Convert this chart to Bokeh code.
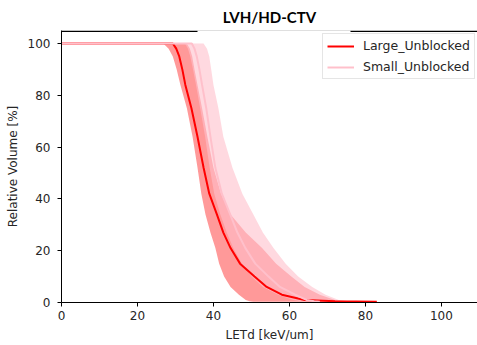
from bokeh.plotting import figure
from bokeh.models import Range1d, FixedTicker, Span, BoxAnnotation
from bokeh.embed import file_html
from bokeh.resources import INLINE

# Relative volume grid [%] and LETd values [keV/um] at each volume level
volume = [100, 100, 98, 95, 90, 84, 75, 64, 52, 42, 34, 27, 21, 15, 10, 6, 3, 1, 0.5, 0.3]
large_mean = [0, 29.3, 30.2, 31.0, 31.8, 32.6, 34.2, 35.8, 37.4, 38.9, 40.9, 42.6, 44.5, 47.0, 50.8, 54.0, 58.0, 64.0, 72.0, 83.0]
large_lo = [0, 26.8, 28.2, 29.3, 30.3, 31.3, 33.0, 34.5, 35.8, 36.8, 37.9, 39.2, 40.5, 41.5, 42.8, 44.5, 46.7, 48.5, 49.5, 50.5]
large_hi = [0, 33.0, 33.8, 34.4, 35.0, 35.8, 37.0, 38.4, 40.0, 42.0, 44.5, 48.5, 52.8, 56.5, 60.5, 64.0, 68.0, 72.0, 76.0, 83.0]
small_mean = [0, 34.3, 35.0, 35.6, 36.3, 37.0, 38.1, 39.2, 40.5, 42.2, 44.4, 46.3, 48.4, 51.0, 54.5, 57.5, 61.5, 64.5, 66.5, 68.0]
small_lo = [0, 32.5, 33.3, 33.9, 34.6, 35.4, 36.5, 37.8, 39.0, 40.2, 41.8, 43.5, 45.2, 47.5, 50.0, 53.0, 57.0, 61.0, 63.0, 64.0]
small_hi = [0, 37.4, 38.3, 38.9, 39.4, 40.0, 41.3, 42.6, 45.0, 47.6, 50.5, 53.0, 55.8, 59.0, 62.3, 66.0, 69.5, 73.0, 75.0, 76.5]

x_ticks = [0, 20, 40, 60, 80, 100]
y_ticks = [0, 20, 40, 60, 80, 100]
title_text = "LVH/HD-CTV"
Y_MAX = 105

p = figure(frame_width=416, frame_height=272, x_range=Range1d(0, 109.5), y_range=Range1d(0, Y_MAX),
           output_backend="svg", toolbar_location=None,
           min_border_left=61, min_border_right=0, min_border_top=30, min_border_bottom=43)
p.outline_line_color = None
p.grid.visible = False

p.title.text = title_text
p.title.text_font = "Lato"
p.title.text_font_style = "bold"
p.title.text_font_size = "15px"
p.title.text_color = "black"
p.title.align = "center"
p.title.offset = 8
p.title.standoff = 10

p.harea(x1=large_lo, x2=large_hi, y=volume, fill_color="red", fill_alpha=0.4)
p.harea(x1=small_lo, x2=small_hi, y=volume, fill_color="pink", fill_alpha=0.6)
p.line(large_mean, volume, line_color="red", line_width=2, legend_label="Large_Unblocked")
p.line(small_mean, volume, line_color="pink", line_width=2, legend_label="Small_Unblocked")

for ax in (p.xaxis[0], p.yaxis[0]):
    ax.axis_line_color = "black"
    ax.major_tick_line_color = "black"
    ax.minor_tick_line_color = None
    ax.major_tick_in = 0
    ax.major_tick_out = 4
    ax.major_label_text_font = "DejaVu Sans"
    ax.major_label_text_font_size = "12px"
    ax.major_label_text_color = "#262626"
    ax.axis_label_text_font = "DejaVu Sans"
    ax.axis_label_text_font_size = "12px"
    ax.axis_label_text_font_style = "normal"
    ax.axis_label_text_color = "#262626"

p.xaxis.ticker = FixedTicker(ticks=x_ticks)
p.yaxis.ticker = FixedTicker(ticks=y_ticks)
p.xaxis.axis_label = "LETd [keV/um]"
p.yaxis.axis_label = "Relative Volume [%]"
p.xaxis.major_label_standoff = 4
p.xaxis.axis_label_standoff = 5
p.yaxis.major_label_standoff = 7
p.yaxis.axis_label_standoff = 5

# top spine, kept just inside the frame
top_spine = Span(location=Y_MAX - 0.3, dimension="width", line_color="black", line_width=1.5)
p.add_layout(top_spine)

# white box hiding the top spine under the title
title_box = BoxAnnotation(left=136, right=289, bottom=266, top=300,
                          left_units="screen", right_units="screen",
                          bottom_units="screen", top_units="screen",
                          fill_color="white", fill_alpha=1.0, line_color=None)
p.add_layout(title_box)

p.legend.location = (261, 223)
p.legend.margin = 0
p.legend.padding = 4
p.legend.spacing = 6
p.legend.label_text_font = "DejaVu Sans"
p.legend.label_text_font_size = "12.5px"
p.legend.label_text_color = "#262626"
p.legend.glyph_width = 27
p.legend.glyph_height = 14
p.legend.label_height = 14
p.legend.label_standoff = 9
p.legend.border_line_color = "#cccccc"
p.legend.background_fill_alpha = 0.8

open("out.html", "w").write(file_html(p, INLINE))
